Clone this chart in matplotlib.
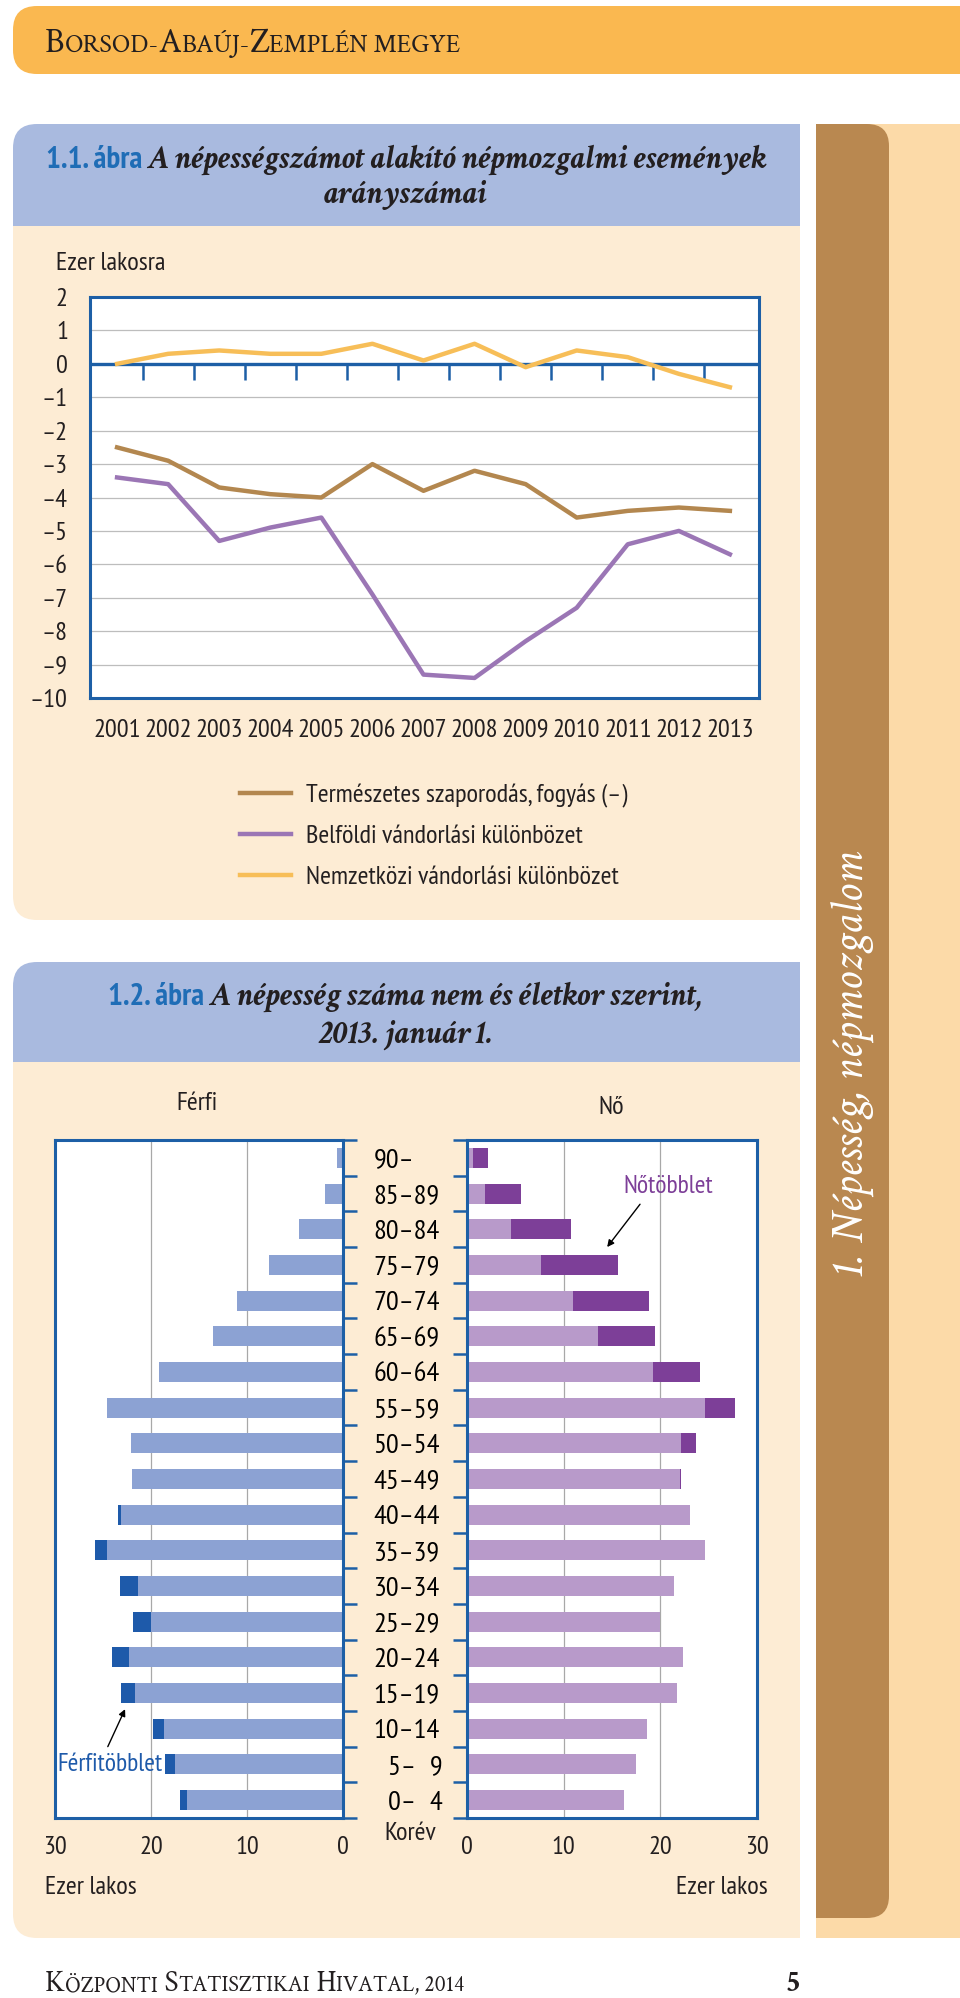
import numpy as np
import matplotlib
matplotlib.use("Agg")
import matplotlib.pyplot as plt
from matplotlib.path import Path
from matplotlib.patches import PathPatch

W, H = 960, 1998

# ── Adatok ────────────────────────────────────────────────────────────────────
years = list(range(2001, 2014))
termeszetes = [-2.5, -2.9, -3.7, -3.9, -4.0, -3.0, -3.8, -3.2, -3.6, -4.6, -4.4, -4.3, -4.4]
belfoldi = [-3.4, -3.6, -5.3, -4.9, -4.6, -6.9, -9.3, -9.4, -8.3, -7.3, -5.4, -5.0, -5.7]
nemzetkozi = [0.0, 0.3, 0.4, 0.3, 0.3, 0.6, 0.1, 0.6, -0.1, 0.4, 0.2, -0.3, -0.7]
series_labels = ["Természetes szaporodás, fogyás (\u2013)",
                 "Belföldi vándorlási különbözet",
                 "Nemzetközi vándorlási különbözet"]
y_ticks = list(range(-10, 3))

age_labels = ["\u20070\u2013\u20074", "\u20075\u2013\u20079", "10\u201314", "15\u201319",
              "20\u201324", "25\u201329", "30\u201334", "35\u201339", "40\u201344",
              "45\u201349", "50\u201354", "55\u201359", "60\u201364", "65\u201369",
              "70\u201374", "75\u201379", "80\u201384", "85\u201389", "90\u2013"]
ferfi = [17.0, 18.5, 19.8, 23.1, 24.1, 21.9, 23.2, 25.8, 23.4, 22.0,
         22.1, 24.6, 19.2, 13.5, 11.0, 7.7, 4.6, 1.9, 0.6]
no = [16.2, 17.5, 18.6, 21.7, 22.3, 20.0, 21.4, 24.6, 23.1, 22.1,
      23.7, 27.7, 24.1, 19.4, 18.8, 15.6, 10.8, 5.6, 2.2]
pyr_ticks = [0, 10, 20, 30]

# ── Színek, betűk ─────────────────────────────────────────────────────────────
ORANGE = "#FAB850"
TITLE_BG = "#A9BADF"
CREAM = "#FDECD4"
BROWN_TAB = "#B98850"
PEACH = "#FCDAA8"
FRAME = "#1D5FA6"
TITLE_BLUE = "#1F6DB6"
INK = "#231F20"
GRID = "#BDBDBD"
C_NAT, C_BEL, C_NEM = "#B3874F", "#9B76B5", "#F7BE58"
M_LIGHT, M_DARK = "#8CA2D3", "#1E5AAA"
F_LIGHT, F_DARK = "#B89ACA", "#7D3F98"

SANS = ["PT Sans Narrow", "Roboto Condensed", "DejaVu Sans"]
SERIF = ["Crimson Text", "Liberation Serif", "DejaVu Serif"]
plt.rcParams["font.family"] = SANS
plt.rcParams["text.color"] = INK
FS = 19  # diagramfeliratok mérete

fig = plt.figure(figsize=(W / 100, H / 100), dpi=100)
bg = fig.add_axes([0, 0, 1, 1], zorder=0)
bg.set_xlim(0, W)
bg.set_ylim(H, 0)
bg.axis("off")


def box(x0, y0, x1, y1, color, tl=0, tr=0, br=0, bl=0):
    """Téglalap egyenként lekerekíthető sarkokkal (pixelben, y lefelé)."""
    L, C = Path.LINETO, Path.CURVE3
    v = [(x0 + tl, y0), (x1 - tr, y0)]
    c = [Path.MOVETO, L]
    if tr:
        v += [(x1, y0), (x1, y0 + tr)]; c += [C, C]
    v.append((x1, y1 - br)); c.append(L)
    if br:
        v += [(x1, y1), (x1 - br, y1)]; c += [C, C]
    v.append((x0 + bl, y1)); c.append(L)
    if bl:
        v += [(x0, y1), (x0, y1 - bl)]; c += [C, C]
    v.append((x0, y0 + tl)); c.append(L)
    if tl:
        v += [(x0, y0), (x0 + tl, y0)]; c += [C, C]
    v.append((x0 + tl, y0)); c.append(Path.CLOSEPOLY)
    bg.add_patch(PathPatch(Path(v, c), facecolor=color, edgecolor="none"))


def px_axes(x0, y0, x1, y1):
    return fig.add_axes([x0 / W, 1 - y1 / H, (x1 - x0) / W, (y1 - y0) / H], zorder=2)


def run_text(x, y, parts, center=False):
    """Egymás után írt szövegdarabok közös alapvonalon."""
    r = fig.canvas.get_renderer()
    texts = [bg.text(x, y, s, va="baseline", ha="left", **kw) for s, kw in parts]
    widths = [t.get_window_extent(r).width for t in texts]
    if center:
        x = x - sum(widths) / 2
    for t, w in zip(texts, widths):
        t.set_x(x)
        x += w


def small_caps(x, y, chunks, big, small, color=INK):
    parts = [(s, dict(fontsize=big if b else small, family=SERIF, color=color))
             for s, b in chunks]
    run_text(x, y, parts)


# ── Háttér ────────────────────────────────────────────────────────────────────
box(13, 6, 975, 74, ORANGE, tl=24, bl=24)
box(816, 124, 960, 1938, PEACH)
box(816, 124, 889, 1918, BROWN_TAB, tr=22, br=22)
box(13, 124, 800, 226, TITLE_BG, tl=24)
box(13, 226, 800, 920, CREAM, bl=24)
box(13, 962, 800, 1062, TITLE_BG, tl=24)
box(13, 1062, 800, 1938, CREAM, bl=24)

small_caps(45, 52, [("B", 1), ("ORSOD-", 0), ("A", 1), ("BAÚJ-", 0), ("Z", 1),
                    ("EMPLÉN MEGYE", 0)], 24.5, 18.7)
small_caps(45, 1991, [("K", 1), ("ÖZPONTI", 0), (" S", 1), ("TATISZTIKAI", 0),
                      (" H", 1), ("IVATAL, 2014", 0)], 21, 15.8)
bg.text(786, 1991, "5", fontsize=21, family=SERIF, fontweight="bold", va="baseline")

bg.text(853, 1065, "1. Népesség, népmozgalom", rotation=90, color="white",
        fontsize=33, family=SERIF, fontstyle="italic", ha="center", va="center")

blue = dict(fontsize=22.4, family=SANS, fontweight="bold", color=TITLE_BLUE)
black = dict(fontsize=23.5, family=SERIF, fontweight="bold", fontstyle="italic", color=INK)
run_text(406, 168, [("1.1. ábra", blue),
                    (" A népességszámot alakító népmozgalmi események", black)], center=True)
run_text(406, 203, [("arányszámai", black)], center=True)
run_text(406, 1005, [("1.2. ábra", blue),
                     (" A népesség száma nem és életkor szerint,", black)], center=True)
run_text(406, 1043, [("2013. január 1.", black)], center=True)

# ── 1.1. ábra: vonaldiagram ───────────────────────────────────────────────────
ax = px_axes(90, 297, 759, 698)
ax.set_xlim(2000.47, 2013.57)
ax.set_ylim(-10, 2)
ax.set_yticks(y_ticks)
ax.set_yticklabels([str(v).replace("-", "\u2013") for v in y_ticks])
ax.set_xticks(years)
ax.set_xticklabels([str(y) for y in years])
ax.tick_params(axis="both", length=0, labelsize=FS, colors=INK)
ax.tick_params(axis="y", pad=16)
ax.tick_params(axis="x", pad=15)
ax.grid(axis="y", color=GRID, lw=0.9)
ax.set_axisbelow(True)
for sp in ax.spines.values():
    sp.set_color(FRAME)
    sp.set_linewidth(2.2)
ax.axhline(0, color=FRAME, lw=2.4, zorder=2)
mids = [y + 0.5 for y in years[:-1]]
ax.vlines(mids, -0.48, 0, color=FRAME, lw=1.8, zorder=2)

l_nat, = ax.plot(years, termeszetes, color=C_NAT, lw=3.2, zorder=3, solid_joinstyle="round")
l_bel, = ax.plot(years, belfoldi, color=C_BEL, lw=3.2, zorder=3, solid_joinstyle="round")
l_nem, = ax.plot(years, nemzetkozi, color=C_NEM, lw=3.2, zorder=3, solid_joinstyle="round")

bg.text(56, 263, "Ezer lakosra", fontsize=FS, va="center", ha="left")

fig.legend([l_nat, l_bel, l_nem], series_labels, loc="upper left",
           bbox_to_anchor=(240 / W, 1 - 784 / H), frameon=False, fontsize=FS,
           handlelength=1.95, handletextpad=0.57, labelspacing=0.64,
           borderpad=0, borderaxespad=0)

# ── 1.2. ábra: korfa ──────────────────────────────────────────────────────────
ypos = np.arange(len(age_labels))
m = np.array(ferfi)
f = np.array(no)
common = np.minimum(m, f)

ax_m = px_axes(55, 1140, 343, 1818)
ax_f = px_axes(467, 1140, 757, 1818)

ax_m.barh(ypos, common, height=0.56, color=M_LIGHT, zorder=2)
ax_m.barh(ypos, m - common, left=common, height=0.56, color=M_DARK, zorder=2)
ax_f.barh(ypos, common, height=0.56, color=F_LIGHT, zorder=2)
ax_f.barh(ypos, f - common, left=common, height=0.56, color=F_DARK, zorder=2)

ax_m.set_xlim(30, 0)
ax_f.set_xlim(0, 30)
bounds = np.arange(-0.5, len(age_labels), 1.0)
for a in (ax_m, ax_f):
    a.set_ylim(-0.5, len(age_labels) - 0.5)
    a.set_xticks(pyr_ticks)
    a.set_xticklabels([str(t) for t in pyr_ticks])
    a.tick_params(axis="x", length=0, labelsize=FS, pad=13, colors=INK)
    a.grid(axis="x", color="#A8A8A8", lw=0.9)
    a.set_axisbelow(True)
    a.set_yticks(bounds)
    a.set_yticklabels([])
    a.tick_params(axis="y", which="major", direction="out", length=10, width=1.8,
                  color=FRAME)
    for sp in a.spines.values():
        sp.set_color(FRAME)
        sp.set_linewidth(2.2)

ax_m.yaxis.tick_right()
ax_m.set_yticks(ypos, minor=True)
ax_m.set_yticklabels(age_labels, minor=True)
ax_m.tick_params(axis="y", which="minor", length=0, pad=22, labelsize=20.5,
                 labelright=True, labelleft=False)
ax_f.yaxis.tick_left()

arrow = dict(arrowstyle="-|>", color="black", lw=1.0, shrinkA=0, shrinkB=0,
             mutation_scale=10)
ax_f.text(20.8, 17.2, "Nőtöbblet", color=F_DARK, fontsize=18.5, ha="center", va="center")
ax_f.annotate("", xy=(14.5, 15.5), xytext=(17.9, 16.7), arrowprops=arrow)
ax_m.text(24.3, 1.0, "Férfitöbblet", color=M_DARK, fontsize=18.5, ha="center",
          va="center", zorder=5)
ax_m.annotate("", xy=(22.7, 2.55), xytext=(24.5, 1.5), arrowprops=arrow)

bg.text(197, 1104, "Férfi", fontsize=FS, ha="center", va="center")
bg.text(611, 1108, "Nő", fontsize=FS, ha="center", va="center")
bg.text(410, 1833, "Korév", fontsize=FS, ha="center", va="center")
bg.text(45, 1887, "Ezer lakos", fontsize=FS, ha="left", va="center")
bg.text(768, 1887, "Ezer lakos", fontsize=FS, ha="right", va="center")

fig.savefig("out.png", dpi=100)
